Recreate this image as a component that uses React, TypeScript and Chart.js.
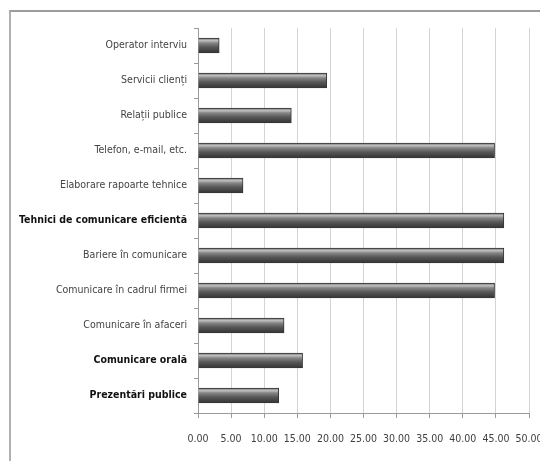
import React, { useEffect, useRef } from "react";
import { Chart, registerables } from "chart.js";

Chart.register(...registerables);

const categories: string[] = [
  "Operator interviu",
  "Servicii clienți",
  "Relații publice",
  "Telefon, e-mail, etc.",
  "Elaborare rapoarte tehnice",
  "Tehnici de comunicare eficientă",
  "Bariere în comunicare",
  "Comunicare în cadrul firmei",
  "Comunicare în afaceri",
  "Comunicare orală",
  "Prezentări publice",
];

const values: number[] = [3.2, 19.45, 14.1, 44.8, 6.8, 46.2, 46.2, 44.8, 13.0, 15.8, 12.2];

const boldLabels: string[] = [
  "Tehnici de comunicare eficientă",
  "Comunicare orală",
  "Prezentări publice",
];

const xMin = 0;
const xMax = 50;
const xStep = 5;

const FONT = "'DejaVu Sans Condensed', 'Liberation Sans Narrow', sans-serif";

export default function App() {
  const canvasRef = useRef<HTMLCanvasElement | null>(null);

  useEffect(() => {
    document.body.style.margin = "0";
    document.body.style.overflow = "hidden";
    const canvas = canvasRef.current;
    if (!canvas) return;

    const chart = new Chart(canvas, {
      type: "bar",
      data: {
        labels: categories,
        datasets: [
          {
            data: values,
            barThickness: 15,
            borderWidth: 1,
            borderColor: "#363636",
            backgroundColor: (ctx: any) => {
              const c = ctx.chart;
              const yScale = c.scales?.y;
              if (!yScale || ctx.dataIndex === undefined) return "#666666";
              const yc = yScale.getPixelForValue(ctx.dataIndex);
              if (!Number.isFinite(yc)) return "#666666";
              const g = c.ctx.createLinearGradient(0, yc - 7.5, 0, yc + 7.5);
              g.addColorStop(0, "#707070");
              g.addColorStop(0.18, "#c0c0c0");
              g.addColorStop(0.32, "#888888");
              g.addColorStop(0.6, "#585858");
              g.addColorStop(1, "#333333");
              return g;
            },
          },
        ],
      },
      options: {
        indexAxis: "y",
        animation: false,
        responsive: false,
        maintainAspectRatio: false,
        layout: { padding: { top: 28, right: 11, left: 0, bottom: 0 } },
        plugins: {
          legend: { display: false },
          tooltip: { enabled: false },
        },
        scales: {
          x: {
            min: xMin,
            max: xMax,
            ticks: {
              stepSize: xStep,
              padding: 15,
              maxRotation: 0,
              minRotation: 0,
              autoSkip: false,
              color: "#404040",
              font: { family: FONT, size: 10.5 },
              callback: (v: any) => Number(v).toFixed(2),
            },
            grid: {
              color: "#d4d4d4",
              lineWidth: 1,
              tickLength: 5,
              tickColor: "#9a9a9a",
            },
            border: { color: "#9a9a9a" },
            afterFit: (scale: any) => {
              scale.height = 48;
              scale.paddingLeft = 0;
              scale.paddingRight = 0;
            },
          },
          y: {
            ticks: {
              padding: 7,
              autoSkip: false,
              color: (ctx: any) =>
                boldLabels.includes(categories[ctx.index]) ? "#111111" : "#444444",
              font: (ctx: any) =>
                boldLabels.includes(categories[ctx.index])
                  ? { family: FONT, size: 10.5, weight: "bold" }
                  : { family: FONT, size: 10.5 },
            },
            grid: {
              drawOnChartArea: false,
              tickLength: 4,
              tickColor: "#9a9a9a",
            },
            border: { color: "#9a9a9a" },
            afterFit: (scale: any) => {
              scale.width = 198;
            },
          },
        },
      },
    });
    chart.update();
    return () => chart.destroy();
  }, []);

  return (
    <div style={{ position: "fixed", left: 0, top: 0, width: 540, height: 461, background: "#fff", overflow: "hidden" }}>
      <div
        style={{
          position: "absolute",
          left: 9,
          top: 10,
          width: 540,
          height: 461,
          borderTop: "2px solid #9c9c9c",
          borderLeft: "2px solid #b0b0b0",
          boxSizing: "border-box",
        }}
      />
      <canvas ref={canvasRef} width={540} height={461} style={{ position: "absolute", left: 0, top: 0 }} />
    </div>
  );
}
